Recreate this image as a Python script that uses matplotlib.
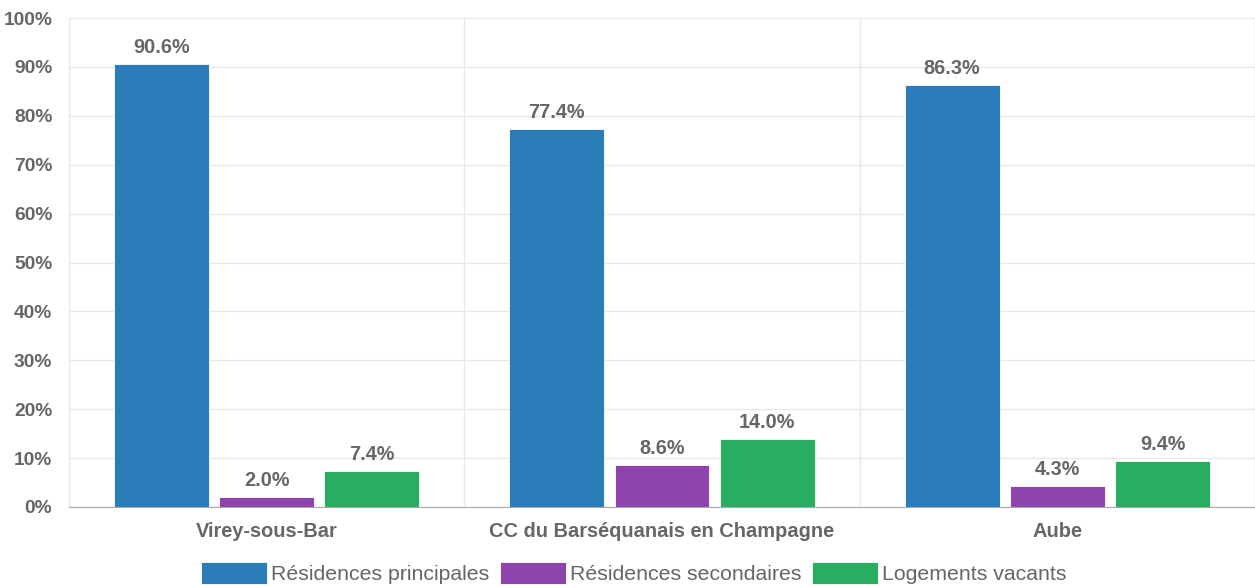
import numpy as np
import matplotlib.pyplot as plt
from matplotlib.ticker import FuncFormatter

plt.rcParams['font.family'] = ['Liberation Sans', 'DejaVu Sans']

territoires = ['Virey-sous-Bar', 'CC du Barséquanais en Champagne', 'Aube']
series = ['Résidences principales', 'Résidences secondaires', 'Logements vacants']
principales = [90.6, 77.4, 86.3]
secondaires = [2.0, 8.6, 4.3]
vacants = [7.4, 14.0, 9.4]
couleurs = ['#2b7dba', '#8e44ad', '#27ae60']

gris = '#666666'

fig = plt.figure(figsize=(12.55, 5.87), dpi=100)
ax = fig.add_axes([0.055, 0.1363, 0.945, 0.833])

x = np.arange(len(territoires))
w = 0.24
pas = 0.266
for i, (vals, nom, c) in enumerate(zip([principales, secondaires, vacants], series, couleurs)):
    pos = x + (i - 1) * pas
    ax.bar(pos, vals, w, color=c, label=nom, edgecolor='white', linewidth=0.6, zorder=3)
    for p, v in zip(pos, vals):
        ax.text(p, v + 1.4, f'{v:.1f}%', ha='center', va='bottom',
                fontsize=14.3, fontweight='bold', color=gris)

ax.set_xlim(-0.5, len(territoires) - 0.5)
ax.set_ylim(0, 100)
ax.set_yticks(np.arange(0, 101, 10))
ax.yaxis.set_major_formatter(FuncFormatter(lambda v, _: f'{v:.0f}%'))
ax.set_xticks(x)
ax.set_xticklabels(territoires)

ax.grid(axis='y', color='#e8e8e8', linewidth=1, zorder=0)
for b in np.arange(-0.5, len(territoires) + 0.5, 1):
    ax.axvline(b, color='#e8e8e8', linewidth=1, zorder=0)

for s in ['top', 'right', 'left']:
    ax.spines[s].set_visible(False)
ax.spines['bottom'].set_color('#aaaaaa')
ax.tick_params(axis='x', length=0, labelsize=14.4, labelcolor=gris, pad=11)
ax.tick_params(axis='y', length=0, labelsize=13.8, labelcolor=gris, pad=12)
for t in ax.get_xticklabels() + ax.get_yticklabels():
    t.set_fontweight('bold')

leg = fig.legend(loc='lower center', bbox_to_anchor=(0.505, -0.028), ncol=3, frameon=False,
                 fontsize=15.3, handlelength=3.1, handleheight=1.2,
                 handletextpad=0.2, columnspacing=0.5)
for t in leg.get_texts():
    t.set_color(gris)

fig.savefig('out.png', dpi=100)
